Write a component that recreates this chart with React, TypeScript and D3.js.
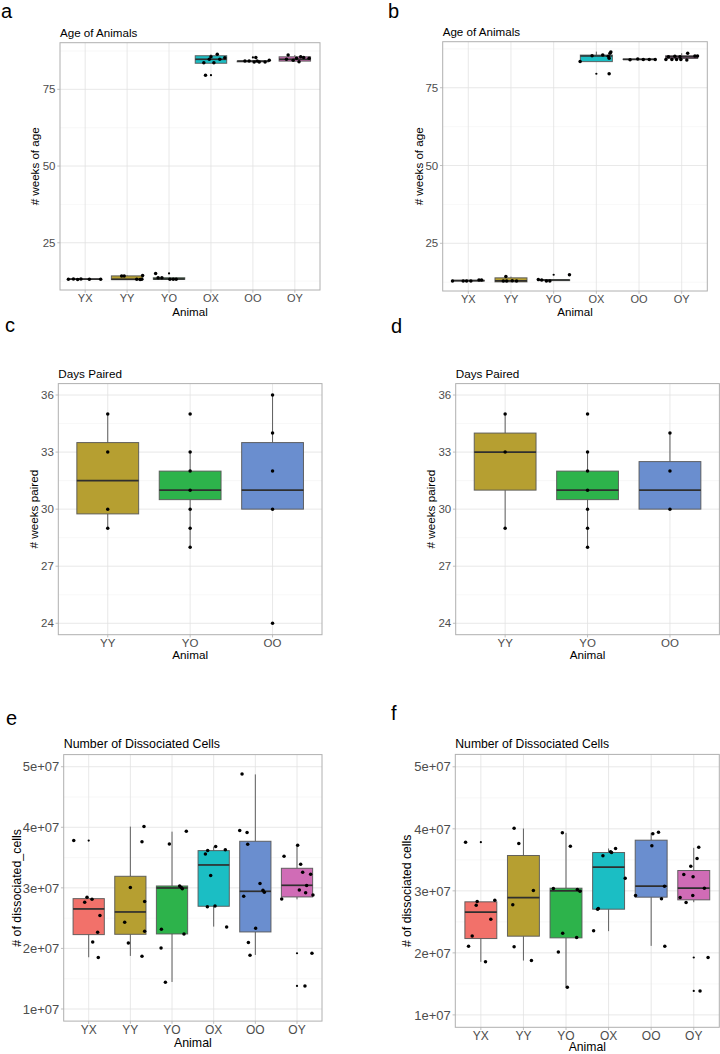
import React from "react";
import * as d3 from "d3";

const FONT = "'Liberation Sans', Arial, Helvetica, sans-serif";

// ---------------- categories & colours ----------------
const animals6 = ["YX", "YY", "YO", "OX", "OO", "OY"];
const animals3 = ["YY", "YO", "OO"];
const fillByAnimal: Record<string, string> = {
  YX: "#f2716a",
  YY: "#b69f31",
  YO: "#2db34b",
  OX: "#1bbec4",
  OO: "#6a8ecf",
  OY: "#d06cb6",
};

// ---------------- tick values ----------------
const ageTicks = [25, 50, 75];
const ageTickLabels = ["25", "50", "75"];
const pairedTicks = [24, 27, 30, 33, 36];
const pairedTickLabels = ["24", "27", "30", "33", "36"];
const cellTicks = [1e7, 2e7, 3e7, 4e7, 5e7];
const cellTickLabels = ["1e+07", "2e+07", "3e+07", "4e+07", "5e+07"];

// ---------------- panel a: age of animals ----------------
// box stats: [lower whisker, q1, median, q3, upper whisker]
const ageA_boxes = [
  [13.0, 13.1, 13.15, 13.2, 13.3],
  [12.9, 13.0, 13.1, 14.2, 14.4],
  [13.0, 13.1, 13.2, 13.6, 13.6],
  [83.5, 83.5, 84.8, 85.95, 86.4],
  [83.9, 83.95, 84.2, 84.2, 84.5],
  [84.0, 84.2, 84.8, 85.6, 86.2],
];
// points: [category index, jitter (category units), value]
const ageA_points = [
  [0, -0.4, 13.1], [0, -0.28, 13.2], [0, -0.18, 13.0], [0, -0.1, 13.2], [0, 0.1, 13.1], [0, 0.37, 13.1],
  [1, -0.13, 14.2], [1, -0.07, 14.2], [1, 0.23, 13.1], [1, 0.31, 13.0], [1, 0.35, 13.1], [1, 0.37, 14.3],
  [2, -0.32, 15.0], [2, -0.26, 13.6], [2, -0.17, 13.6], [2, 0.02, 13.1], [2, 0.1, 13.1], [2, 0.17, 13.1],
  [3, -0.17, 83.7], [3, -0.04, 84.8], [3, 0.0, 85.6], [3, 0.07, 83.7], [3, 0.15, 86.4], [3, 0.21, 84.8], [3, 0.33, 85.3], [3, -0.13, 79.6],
  [4, -0.19, 84.2], [4, -0.09, 84.2], [4, 0.07, 85.4], [4, 0.03, 83.9], [4, 0.15, 83.9], [4, 0.29, 83.9], [4, 0.39, 84.5], [4, 0.1, 84.2],
  [5, -0.16, 86.2], [5, -0.2, 84.8], [5, -0.04, 84.5], [5, 0.04, 85.1], [5, 0.14, 85.6], [5, 0.1, 84.0], [5, 0.21, 85.4], [5, 0.34, 85.1],
];
const ageA_outliers = [[2, 15.0], [3, 79.6], [4, 85.4]];

// ---------------- panel b: age of animals ----------------
const ageB_boxes = [
  [12.9, 12.9, 13.0, 13.1, 13.2],
  [12.5, 12.6, 12.9, 13.9, 14.3],
  [12.9, 13.0, 13.2, 13.3, 13.4],
  [83.4, 83.4, 85.2, 85.5, 86.6],
  [84.0, 84.1, 84.1, 84.2, 84.3],
  [83.9, 84.4, 84.9, 85.3, 86.1],
];
const ageB_points = [
  [0, -0.37, 12.9], [0, -0.12, 12.9], [0, -0.04, 12.9], [0, 0.06, 12.9], [0, 0.25, 13.2], [0, 0.31, 13.2],
  [1, -0.12, 14.3], [1, -0.18, 12.9], [1, 0.13, 12.9], [1, -0.1, 12.9], [1, 0.03, 13.0],
  [2, -0.36, 13.4], [2, -0.28, 13.2], [2, -0.17, 12.9], [2, -0.09, 12.9], [2, 0.37, 14.9],
  [3, -0.38, 83.4], [3, -0.1, 85.3], [3, 0.15, 85.5], [3, 0.28, 85.1], [3, 0.32, 86.1], [3, 0.34, 86.5], [3, 0.3, 84.5], [3, 0.3, 79.5],
  [4, -0.21, 84.0], [4, -0.03, 84.2], [4, 0.1, 84.1], [4, 0.24, 84.1], [4, 0.38, 84.1],
  [5, -0.37, 84.1], [5, -0.31, 85.0], [5, -0.23, 84.1], [5, -0.16, 85.1], [5, -0.12, 84.1], [5, -0.02, 84.1],
  [5, 0.12, 83.9], [5, 0.14, 86.1], [5, 0.31, 85.2], [5, 0.37, 85.2], [5, -0.04, 85.0],
];
const ageB_outliers = [[2, 14.9], [3, 79.5]];

// ---------------- panel c: days paired ----------------
const pairedC_boxes = [
  [29, 29.75, 31.5, 33.5, 35],
  [28, 30.5, 31, 32, 33],
  [30, 30, 31, 33.5, 36],
];
const pairedC_points = [
  [0, 0, 35], [0, 0, 33], [0, 0, 30], [0, 0, 29],
  [1, 0, 35], [1, 0, 33], [1, 0, 32], [1, 0, 31], [1, 0, 30], [1, 0, 29], [1, 0, 28],
  [2, 0, 36], [2, 0, 34], [2, 0, 32], [2, 0, 30], [2, 0, 24],
];
const pairedC_outliers: number[][] = [];

// ---------------- panel d: days paired ----------------
const pairedD_boxes = [
  [29, 31, 33, 34, 35],
  [28, 30.5, 31, 32, 33],
  [30, 30, 31, 32.5, 34],
];
const pairedD_points = [
  [0, 0, 35], [0, 0, 33], [0, 0, 29],
  [1, 0, 35], [1, 0, 33], [1, 0, 32], [1, 0, 31], [1, 0, 30], [1, 0, 29], [1, 0, 28],
  [2, 0, 34], [2, 0, 32], [2, 0, 30],
];
const pairedD_outliers: number[][] = [];

// ---------------- panel e: dissociated cells ----------------
const cellsE_boxes = [
  [1.854e7, 2.228e7, 2.652e7, 2.822e7, 2.822e7],
  [1.876e7, 2.233e7, 2.602e7, 3.191e7, 4.011e7],
  [1.446e7, 2.239e7, 2.998e7, 3.031e7, 3.928e7],
  [2.36e7, 2.696e7, 3.378e7, 3.615e7, 3.68e7],
  [1.892e7, 2.272e7, 2.943e7, 3.769e7, 4.873e7],
  [2.81e7, 2.85e7, 3.042e7, 3.323e7, 3.703e7],
];
const cellsE_points = [
  [0, -0.359, 3.78e7], [0, -0.04, 2.844e7], [0, 0.08, 2.811e7], [0, -0.096, 2.762e7], [0, 0.27, 2.542e7], [0, 0.215, 2.266e7], [0, 0.096, 2.107e7], [0, 0.23, 1.848e7],
  [1, 0.327, 4.011e7], [1, 0.279, 3.763e7], [1, 0.0, 3.004e7], [1, 0.343, 2.773e7], [1, -0.136, 2.431e7], [1, 0.343, 2.283e7], [1, -0.048, 2.09e7], [1, 0.279, 1.87e7],
  [2, 0.343, 3.934e7], [2, -0.064, 3.725e7], [2, 0.183, 3.031e7], [2, 0.223, 3.004e7], [2, 0.247, 2.987e7], [2, -0.255, 2.316e7], [2, 0.287, 2.239e7], [2, -0.263, 2.008e7], [2, -0.159, 1.441e7],
  [3, 0.048, 3.681e7], [3, -0.144, 3.615e7], [3, -0.199, 3.56e7], [3, 0.279, 3.631e7], [3, -0.072, 3.202e7], [3, -0.152, 2.69e7], [3, 0.032, 2.701e7], [3, 0.311, 2.354e7],
  [4, -0.319, 4.88e7], [4, -0.375, 3.945e7], [4, -0.199, 3.912e7], [4, -0.183, 3.719e7], [4, 0.112, 3.07e7], [4, 0.183, 2.96e7], [4, 0.215, 2.927e7], [4, -0.279, 2.861e7], [4, 0.008, 2.332e7], [4, -0.167, 2.096e7], [4, -0.128, 1.887e7],
  [5, 0.016, 3.703e7], [5, -0.311, 3.521e7], [5, 0.088, 3.389e7], [5, 0.136, 3.257e7], [5, 0.327, 3.224e7], [5, 0.231, 3.037e7], [5, 0.056, 2.965e7], [5, 0.207, 2.921e7], [5, 0.383, 2.883e7], [5, -0.367, 2.817e7], [5, 0.359, 1.92e7], [5, 0.191, 1.38e7],
];
const cellsE_outliers = [[0, 3.78e7], [5, 1.92e7], [5, 1.38e7]];

// ---------------- panel f: dissociated cells ----------------
const cellsF_boxes = [
  [1.855e7, 2.231e7, 2.656e7, 2.823e7, 2.823e7],
  [1.876e7, 2.269e7, 2.892e7, 3.57e7, 4.005e7],
  [1.446e7, 2.242e7, 3.0e7, 3.043e7, 3.935e7],
  [2.35e7, 2.704e7, 3.382e7, 3.618e7, 3.683e7],
  [2.113e7, 2.898e7, 3.075e7, 3.817e7, 3.935e7],
  [2.817e7, 2.855e7, 3.043e7, 3.328e7, 3.694e7],
];
const cellsF_points = [
  [0, -0.359, 3.785e7], [0, -0.086, 2.828e7], [0, -0.109, 2.769e7], [0, 0.328, 2.849e7], [0, 0.234, 2.543e7], [0, -0.203, 2.274e7], [0, -0.289, 2.108e7], [0, 0.109, 1.855e7],
  [1, -0.219, 4.011e7], [1, -0.109, 3.763e7], [1, 0.234, 3.005e7], [1, -0.25, 2.774e7], [1, -0.219, 2.097e7], [1, 0.188, 1.876e7],
  [2, -0.086, 3.935e7], [2, 0.102, 3.72e7], [2, -0.297, 3.038e7], [2, 0.266, 3.022e7], [2, 0.328, 2.995e7], [2, -0.078, 2.317e7], [2, 0.25, 2.247e7], [2, -0.18, 2.016e7], [2, 0.031, 1.446e7],
  [3, 0.164, 3.683e7], [3, 0.047, 3.629e7], [3, 0.07, 3.618e7], [3, -0.133, 3.565e7], [3, 0.39, 3.204e7], [3, -0.258, 2.704e7], [3, -0.242, 2.715e7], [3, -0.352, 2.355e7],
  [4, 0.172, 3.946e7], [4, 0.039, 3.919e7], [4, 0.016, 3.726e7], [4, 0.313, 3.075e7], [4, -0.367, 2.925e7], [4, 0.242, 2.871e7], [4, 0.32, 2.108e7],
  [5, 0.117, 3.704e7], [5, 0.078, 3.522e7], [5, -0.07, 3.398e7], [5, -0.234, 3.263e7], [5, -0.016, 3.226e7], [5, 0.25, 3.043e7], [5, -0.023, 2.925e7], [5, -0.32, 2.892e7], [5, -0.18, 2.812e7], [5, 0.336, 1.925e7], [5, 0.148, 1.387e7],
];
const cellsF_outliers = [[0, 3.785e7], [5, 1.925e7], [5, 1.387e7]];

// ---------------- layout ----------------
type PanelCfg = {
  letter: string; letterX: number; letterY: number;
  left: number; right: number; top: number; bottom: number;
  yDomain: number[]; ticks: number[]; tickLabels: string[];
  cats: string[]; boxes: number[][]; points: number[][]; outliers: number[][];
  title: string; titleY: number; yTitle: string; yTitleX: number;
  textSize: number; tickSize: number; catSize: number; animalDy: number; catDy: number;
};

const panels: PanelCfg[] = [
  { letter: "a", letterX: 1, letterY: 18, left: 60, right: 320, top: 42.7, bottom: 290, yDomain: [9.6, 90.2],
    ticks: ageTicks, tickLabels: ageTickLabels, cats: animals6, boxes: ageA_boxes, points: ageA_points, outliers: ageA_outliers,
    title: "Age of Animals", titleY: 37, yTitle: "# weeks of age", yTitleX: 35, textSize: 11.6, tickSize: 11.5, catSize: 11, animalDy: 21.7, catDy: 8.3 },
  { letter: "b", letterX: 388, letterY: 18, left: 442.7, right: 707.3, top: 41.7, bottom: 291, yDomain: [9.67, 89.8],
    ticks: ageTicks, tickLabels: ageTickLabels, cats: animals6, boxes: ageB_boxes, points: ageB_points, outliers: ageB_outliers,
    title: "Age of Animals", titleY: 35.5, yTitle: "# weeks of age", yTitleX: 419.3, textSize: 11.6, tickSize: 11.5, catSize: 11, animalDy: 21.3, catDy: 8.3 },
  { letter: "c", letterX: 5, letterY: 332, left: 58.3, right: 322, top: 383.6, bottom: 634.7, yDomain: [23.4, 36.6],
    ticks: pairedTicks, tickLabels: pairedTickLabels, cats: animals3, boxes: pairedC_boxes, points: pairedC_points, outliers: pairedC_outliers,
    title: "Days Paired", titleY: 377.5, yTitle: "# weeks paired", yTitleX: 33.3, textSize: 11.7, tickSize: 11.5, catSize: 11.5, animalDy: 19.8, catDy: 8.2 },
  { letter: "d", letterX: 391, letterY: 333, left: 455.7, right: 719.4, top: 383.6, bottom: 634.7, yDomain: [23.4, 36.6],
    ticks: pairedTicks, tickLabels: pairedTickLabels, cats: animals3, boxes: pairedD_boxes, points: pairedD_points, outliers: pairedD_outliers,
    title: "Days Paired", titleY: 377.5, yTitle: "# weeks paired", yTitleX: 430.7, textSize: 11.7, tickSize: 11.5, catSize: 11.5, animalDy: 19.8, catDy: 8.2 },
  { letter: "e", letterX: 6, letterY: 725, left: 63.7, right: 322, top: 754.6, bottom: 1021.1, yDomain: [0.8e7, 5.2e7],
    ticks: cellTicks, tickLabels: cellTickLabels, cats: animals6, boxes: cellsE_boxes, points: cellsE_points, outliers: cellsE_outliers,
    title: "Number of Dissociated Cells", titleY: 747.5, yTitle: "# of dissociated_cells", yTitleX: 16.5, textSize: 12.4, tickSize: 13, catSize: 12, animalDy: 21.7, catDy: 8.2 },
  { letter: "f", letterX: 391, letterY: 720, left: 455.3, right: 719.3, top: 754.4, bottom: 1027.3, yDomain: [0.8e7, 5.2e7],
    ticks: cellTicks, tickLabels: cellTickLabels, cats: animals6, boxes: cellsF_boxes, points: cellsF_points, outliers: cellsF_outliers,
    title: "Number of Dissociated Cells", titleY: 747.5, yTitle: "# of dissociated cells", yTitleX: 406.7, textSize: 12.2, tickSize: 13, catSize: 12, animalDy: 19.6, catDy: 8.8 },
];

function Panel({ p }: { p: PanelCfg }) {
  const n = p.cats.length;
  const x = d3.scaleLinear().domain([0.4, n + 0.6]).range([p.left, p.right]);
  const y = d3.scaleLinear().domain(p.yDomain).range([p.bottom, p.top]);
  const step = p.ticks[1] - p.ticks[0];
  const minor: number[] = [];
  const first = p.ticks[0] - step / 2;
  for (let v = first; v <= p.yDomain[1]; v += step) {
    if (v >= p.yDomain[0]) minor.push(v);
  }
  const boxW = 0.75;
  const catX = (i: number) => x(i + 1);
  const midY = (p.top + p.bottom) / 2;

  return (
    <g>
      <text x={p.letterX} y={p.letterY} fontSize={20} fontFamily={FONT} fill="#000">{p.letter}</text>
      {/* grid */}
      {minor.map((v, i) => (
        <line key={"mi" + i} x1={p.left} x2={p.right} y1={y(v)} y2={y(v)} stroke="#f0f0f0" strokeWidth={0.5} />
      ))}
      {p.ticks.map((v, i) => (
        <line key={"ma" + i} x1={p.left} x2={p.right} y1={y(v)} y2={y(v)} stroke="#e2e2e2" strokeWidth={0.8} />
      ))}
      {p.cats.map((c, i) => (
        <line key={"vx" + i} x1={catX(i)} x2={catX(i)} y1={p.top} y2={p.bottom} stroke="#e2e2e2" strokeWidth={0.8} />
      ))}
      {/* boxes */}
      {p.boxes.map((b, i) => {
        const [lo, q1, med, q3, hi] = b;
        const cx = catX(i);
        const x0 = x(i + 1 - boxW / 2);
        const x1 = x(i + 1 + boxW / 2);
        return (
          <g key={"b" + i}>
            <line x1={cx} x2={cx} y1={y(hi)} y2={y(q3)} stroke="#5f5f5f" strokeWidth={1} />
            <line x1={cx} x2={cx} y1={y(q1)} y2={y(lo)} stroke="#5f5f5f" strokeWidth={1} />
            <rect x={x0} y={y(q3)} width={x1 - x0} height={Math.max(0.01, y(q1) - y(q3))}
              fill={fillByAnimal[p.cats[i]]} stroke="#555" strokeOpacity={0.9} strokeWidth={1} />
            <line x1={x0} x2={x1} y1={y(med)} y2={y(med)} stroke="#2f2f2f" strokeWidth={1.7} />
          </g>
        );
      })}
      {/* outliers (small) */}
      {p.outliers.map((o, i) => (
        <circle key={"o" + i} cx={catX(o[0])} cy={y(o[1])} r={1.1} fill="#000" />
      ))}
      {/* jittered points */}
      {p.points.map((pt, i) => (
        <circle key={"p" + i} cx={x(pt[0] + 1 + pt[1])} cy={y(pt[2])} r={1.75} fill="#000" />
      ))}
      {/* border */}
      <rect x={p.left} y={p.top} width={p.right - p.left} height={p.bottom - p.top} fill="none" stroke="#b0b0b0" strokeWidth={1} />
      {/* y axis ticks */}
      {p.ticks.map((v, i) => (
        <g key={"yt" + i}>
          <line x1={p.left - 2.75} x2={p.left} y1={y(v)} y2={y(v)} stroke="#b0b0b0" strokeWidth={0.8} />
          <text x={p.left - 4.5} y={y(v)} dy="0.36em" textAnchor="end" fontSize={p.tickSize} fontFamily={FONT} fill="#4d4d4d">
            {p.tickLabels[i]}
          </text>
        </g>
      ))}
      {/* x axis ticks */}
      {p.cats.map((c, i) => (
        <g key={"xt" + i}>
          <line x1={catX(i)} x2={catX(i)} y1={p.bottom} y2={p.bottom + 2.75} stroke="#b0b0b0" strokeWidth={0.8} />
          <text x={catX(i)} y={p.bottom + p.catDy} dy="0.36em" textAnchor="middle" fontSize={p.catSize} fontFamily={FONT} fill="#4d4d4d">
            {c}
          </text>
        </g>
      ))}
      {/* titles */}
      <text x={p.left} y={p.titleY} fontSize={p.textSize} fontFamily={FONT} fill="#000">{p.title}</text>
      <text x={(p.left + p.right) / 2} y={p.bottom + p.animalDy} dy="0.36em" textAnchor="middle" fontSize={p.textSize} fontFamily={FONT} fill="#000">
        Animal
      </text>
      <text transform={`translate(${p.yTitleX},${midY}) rotate(-90)`} dy="0.36em" textAnchor="middle" fontSize={p.textSize} fontFamily={FONT} fill="#000">
        {p.yTitle}
      </text>
    </g>
  );
}

export default function App() {
  return (
    <div style={{ width: 720, height: 1054, background: "#fff" }}>
      <style>{`body{margin:0;background:#fff;}`}</style>
      <svg width={720} height={1054} viewBox="0 0 720 1054" style={{ display: "block" }}>
        <rect x={0} y={0} width={720} height={1054} fill="#fff" />
        {panels.map((p) => (
          <Panel key={p.letter} p={p} />
        ))}
      </svg>
    </div>
  );
}
